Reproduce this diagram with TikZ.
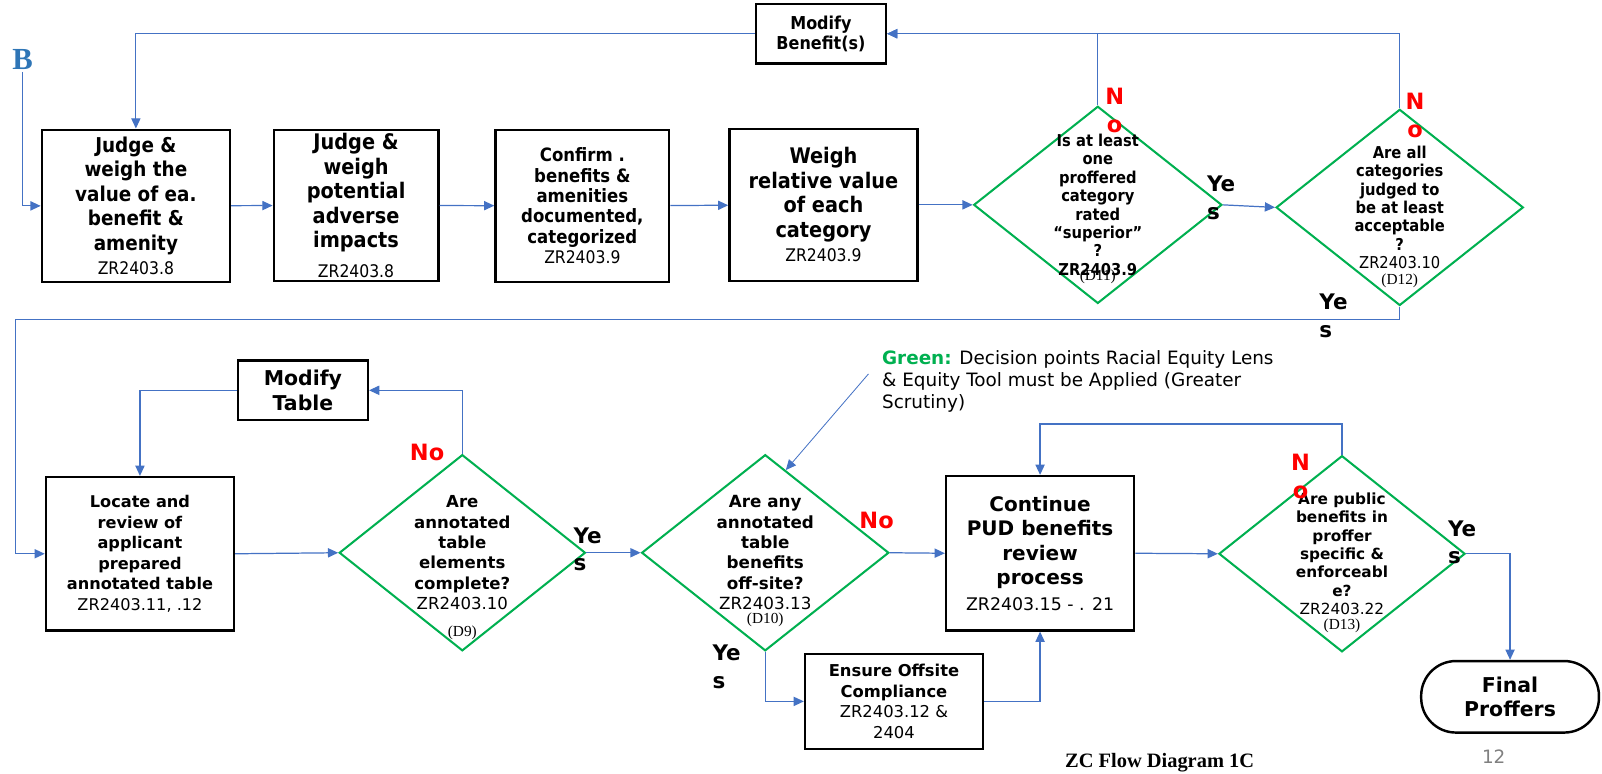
\documentclass[tikz,border=0pt]{standalone}
\usepackage{fontspec}
\setmainfont{DejaVu Sans}
\newfontfamily\condf{DejaVu Sans Condensed}
\newfontfamily\serf{Liberation Serif}
\usetikzlibrary{shapes.geometric,arrows.meta}
\definecolor{linkblue}{RGB}{68,114,196}
\definecolor{decgreen}{RGB}{0,176,80}
\definecolor{bblue}{RGB}{46,117,182}
\def\fs#1#2{\fontsize{#1}{#2}\selectfont}
\tikzset{
  box/.style={draw, line width=1.2pt, align=center, inner sep=1pt},
  dec/.style={draw=decgreen, line width=1pt, diamond, aspect=1.25, inner sep=0pt},
  dtxt/.style={align=center, inner sep=0pt},
  dtag/.style={font=\serf\fs{7.5}{8}, inner sep=0pt},
  link/.style={draw=linkblue, line width=0.6pt, -{Triangle[length=5pt,width=4.5pt]}},
  yes/.style={font=\bfseries\fs{10.5}{13.5}, align=left, inner sep=0pt},
  no/.style={font=\bfseries\fs{11}{13.5}, text=red, align=center, inner sep=0pt}
}
\begin{document}
\begin{tikzpicture}[x=0.5pt,y=-0.5pt]
\useasboundingbox (0,0) rectangle (1568,757);
% top row
\node[box, minimum width=92pt, minimum height=74.5pt, font=\condf\bfseries\fs{10}{12}] (jv) at (133,201.5)
  {Judge \&\\weigh the\\value of ea.\\benefit \&\\amenity\\{\mdseries\fs{8.5}{10}ZR2403.8}};
\node[box, minimum width=80.5pt, minimum height=74pt, font=\condf\bfseries\fs{10.5}{12}] (ja) at (348.5,201)
  {Judge \&\\weigh\\potential\\adverse\\impacts\\[2.5pt]{\mdseries\fs{8.5}{10}ZR2403.8}};
\node[box, minimum width=85pt, minimum height=74.5pt, font=\condf\bfseries\fs{9}{10}] (cb) at (570,201.5)
  {Confirm .\\benefits \&\\amenities\\documented,\\categorized\\{\mdseries\fs{8.5}{10}ZR2403.9}};
\node[box, minimum width=92pt, minimum height=74.5pt, font=\condf\bfseries\fs{10.5}{12}] (wr) at (806,200.5)
  {Weigh\\relative value\\of each\\category\\{\mdseries\fs{8.5}{12}ZR2403.9}};
\node[box, minimum width=63.5pt, minimum height=29pt, font=\condf\bfseries\fs{8.7}{10}] (modb) at (803.5,33)
  {Modify\\Benefit(s)};
\node[dec, minimum width=121.5pt, minimum height=96.5pt] (d11) at (1074.5,200.5) {};
\node[dtxt, font=\condf\bfseries\fs{8}{9}] (d11t) at (d11) {Is at least\\one\\proffered\\category\\rated\\“superior”\\?\\ZR2403.9};
\node[dtag, yshift=-35pt] (d11n) at (d11) {(D11)};
\node[dec, minimum width=121pt, minimum height=96pt] (d12) at (1370,203) {};
\node[dtxt, font=\condf\bfseries\fs{8}{9}] (d12t) at (d12) {Are all\\categories\\judged to\\be at least\\acceptable\\?\\{\mdseries ZR2403.10}};
\node[dtag, yshift=-36pt] (d12n) at (d12) {(D12)};
\node[font=\serf\bfseries\fs{15}{17}, text=bblue, inner sep=1pt] (bb) at (22,58) {B};
% bottom row
\node[box, minimum width=63.5pt, minimum height=29pt, font=\bfseries\fs{10}{12}] (modt) at (296.5,382)
  {Modify\\Table};
\node[box, minimum width=92pt, minimum height=75pt, font=\bfseries\fs{7.9}{10}] (loc) at (137,542)
  {Locate and\\review of\\applicant\\prepared\\annotated table\\{\mdseries ZR2403.11, .12}};
\node[dec, minimum width=120.5pt, minimum height=96pt] (d9) at (452.5,541) {};
\node[dtxt, font=\bfseries\fs{8.1}{10}] (d9t) at (d9) {Are\\annotated\\table\\elements\\complete?\\{\mdseries ZR2403.10}};
\node[dtag, yshift=-39pt] (d9n) at (d9) {(D9)};
\node[dec, minimum width=121pt, minimum height=96pt] (d10) at (749,541) {};
\node[dtxt, font=\bfseries\fs{8.2}{10}] (d10t) at (d10) {Are any\\annotated\\table\\benefits\\off-site?\\{\mdseries ZR2403.13}};
\node[dtag, yshift=-33pt] (d10n) at (d10) {(D10)};
\node[box, minimum width=92pt, minimum height=75.5pt, font=\bfseries\fs{9.8}{12}] (cont) at (1018,541.5)
  {Continue\\PUD benefits\\review\\process\\[0.5pt]{\mdseries\fs{8.5}{10}ZR2403.15 - . 21}};
\node[box, minimum width=87pt, minimum height=46.5pt, font=\bfseries\fs{8}{10}] (ens) at (875,686.5)
  {Ensure Offsite\\Compliance\\{\mdseries ZR2403.12 \&}\\{\mdseries 2404}};
\node[dec, minimum width=120.5pt, minimum height=96pt] (d13) at (1313.5,542) {};
\node[dtxt, font=\bfseries\fs{7.5}{9}] (d13t) at (d13) {Are public\\benefits in\\proffer\\specific \&\\enforceabl\\e?\\{\mdseries ZR2403.22}};
\node[dtag, yshift=-35.5pt] (d13n) at (d13) {(D13)};
\node[box, rounded corners=17pt, minimum width=87pt, minimum height=35pt, font=\bfseries\fs{10}{12}] (fin) at (1478,682)
  {Final\\Proffers};
\node[anchor=north west, align=left, inner sep=0pt, font=\fs{9}{10.75}] (note) at (863,343)
  {\textcolor{decgreen}{\bfseries Green:} Decision points Racial Equity Lens\\\& Equity Tool must be Applied (Greater\\Scrutiny)};
\coordinate (ptr) at (850,366);
\coordinate (wrap) at (15,313);
% connectors
\draw[link] (bb.south) |- (jv.west);
\draw[link] (jv) -- (ja);
\draw[link] (ja) -- (cb);
\draw[link] (cb) -- (wr);
\draw[link] (wr.east) -- (d11.west);
\draw[link] (d11.east) -- (d12.west);
\draw[link] (d11.north) |- (modb.east);
\draw[link] (d12.north) |- (modb.east);
\draw[link] (modb.west) -| (jv.north);
\draw[link] (d12.south) |- (wrap) |- (loc.west);
\draw[link] (loc.east) -- (d9.west);
\draw[link] (d9.north) |- (modt.east);
\draw[link] (modt.west) -| (loc.north);
\draw[link] (d9.east) -- (d10.west);
\draw[link] (d10.east) -- (cont.west);
\draw[link] (d10.south) |- (ens.west);
\draw[link] (ens.east) -| (cont.south);
\draw[link] (cont.east) -- (d13.west);
\draw[link] (d13.north) -- ++(0,-30) -| (cont.north);
\draw[link] (d13.east) -| (fin.north);
\draw[link, line width=0.4pt] (ptr) -- (d10.76);
% answers
\node[no] (d11no) at (1091,108) {N\\o};
\node[no] (d12no) at (1385,113) {N\\o};
\node[yes, anchor=west] (d11yes) at (1181,193.5) {Ye\\s};
\node[yes, anchor=west] (d12yes) at (1291,309) {Ye\\s};
\node[no] (d9no) at (418,443) {No};
\node[yes, anchor=west] (d9yes) at (561,537.5) {Ye\\s};
\node[no] (d10no) at (858,509) {No};
\node[yes, anchor=west] (d10yes) at (697,652.5) {Ye\\s};
\node[no] (d13no) at (1273,466.5) {N\\o};
\node[yes, anchor=west] (d13yes) at (1417,531) {Ye\\s};
% footer
\node[font=\serf\bfseries\fs{10}{11}] (cap) at (1135,746) {ZC Flow Diagram 1C};
\node[text=gray, font=\fs{9}{11}] (pg) at (1462,741) {12};
\end{tikzpicture}
\end{document}
